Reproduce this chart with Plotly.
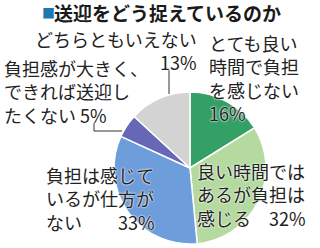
import plotly.graph_objects as go

W, H = 320, 248

categories = ["とても良い時間で負担を感じない", "良い時間ではあるが負担は感じる",
              "負担は感じているが仕方がない", "負担感が大きく、できれば送迎したくない",
              "どちらともいえない"]
values = [16, 32, 33, 5, 13]
colors = ["#33a065", "#b4daa0", "#6e9ddb", "#6767b8", "#d3d3d3"]
title_text = "送迎をどう捉えているのか"

FONT = "Noto Sans CJK JP"

fig = go.Figure(go.Pie(
    labels=categories, values=values, sort=False, direction="clockwise",
    rotation=0, textinfo="none", hoverinfo="label+percent",
    marker=dict(colors=colors, line=dict(color="white", width=1.5)),
    domain=dict(x=[114 / W, 266 / W], y=[(H - 244) / H, (H - 92) / H]),
    showlegend=False,
))

def px(x):
    return x / W

def py(y):
    return 1 - y / H

ann = []
shadow = "0px 0px 2px white, 0px 0px 2px white"

def add(text, x, y, anchor="left", yanchor="middle", size=18, color="#222222",
        weight="normal", align="left"):
    ann.append(dict(text=text, x=px(x), y=py(y), xref="paper", yref="paper",
                    xanchor=anchor, yanchor=yanchor, showarrow=False, align=align,
                    borderpad=0,
                    font=dict(family=FONT, size=size, color=color, weight=weight,
                              shadow=shadow)))

SP = "\u3000"   # full-width space

# title
add("■", 41, 13, size=13, color="#1c78b0")
add(title_text, 53, 13, size=19, color="#1a1a1a", weight="bold")

# labels
add(f"どちらともいえない<br>{values[4]}%", 198, 50, anchor="right", align="right")

add(f"とても良い<br>時間で負担<br>を感じない<br>{values[0]}%", 208, 78)

add(f"負担感が大きく、<br>できれば送迎し<br>たくない {values[3]}%", 3, 91)

add(f"負担は感じて<br>いるが仕方が<br>ない{SP}{SP}{values[2]}%", 45, 198)

add(f"良い時間では<br>あるが負担は<br>感じる{SP}{values[1]}%", 196, 194)

shapes = [
    dict(type="line", xref="paper", yref="paper", x0=px(169), y0=py(70), x1=px(169), y1=py(94),
         line=dict(color="#333333", width=1)),
    dict(type="path", xref="paper", yref="paper",
         path=f"M {px(94)} {py(123)} L {px(94)} {py(131)} L {px(122)} {py(131)}",
         line=dict(color="#333333", width=1)),
]

fig.update_layout(
    width=W, height=H, margin=dict(l=0, r=0, t=0, b=0),
    paper_bgcolor="white", plot_bgcolor="white",
    annotations=ann, shapes=shapes,
)

fig.write_html("out.html")
